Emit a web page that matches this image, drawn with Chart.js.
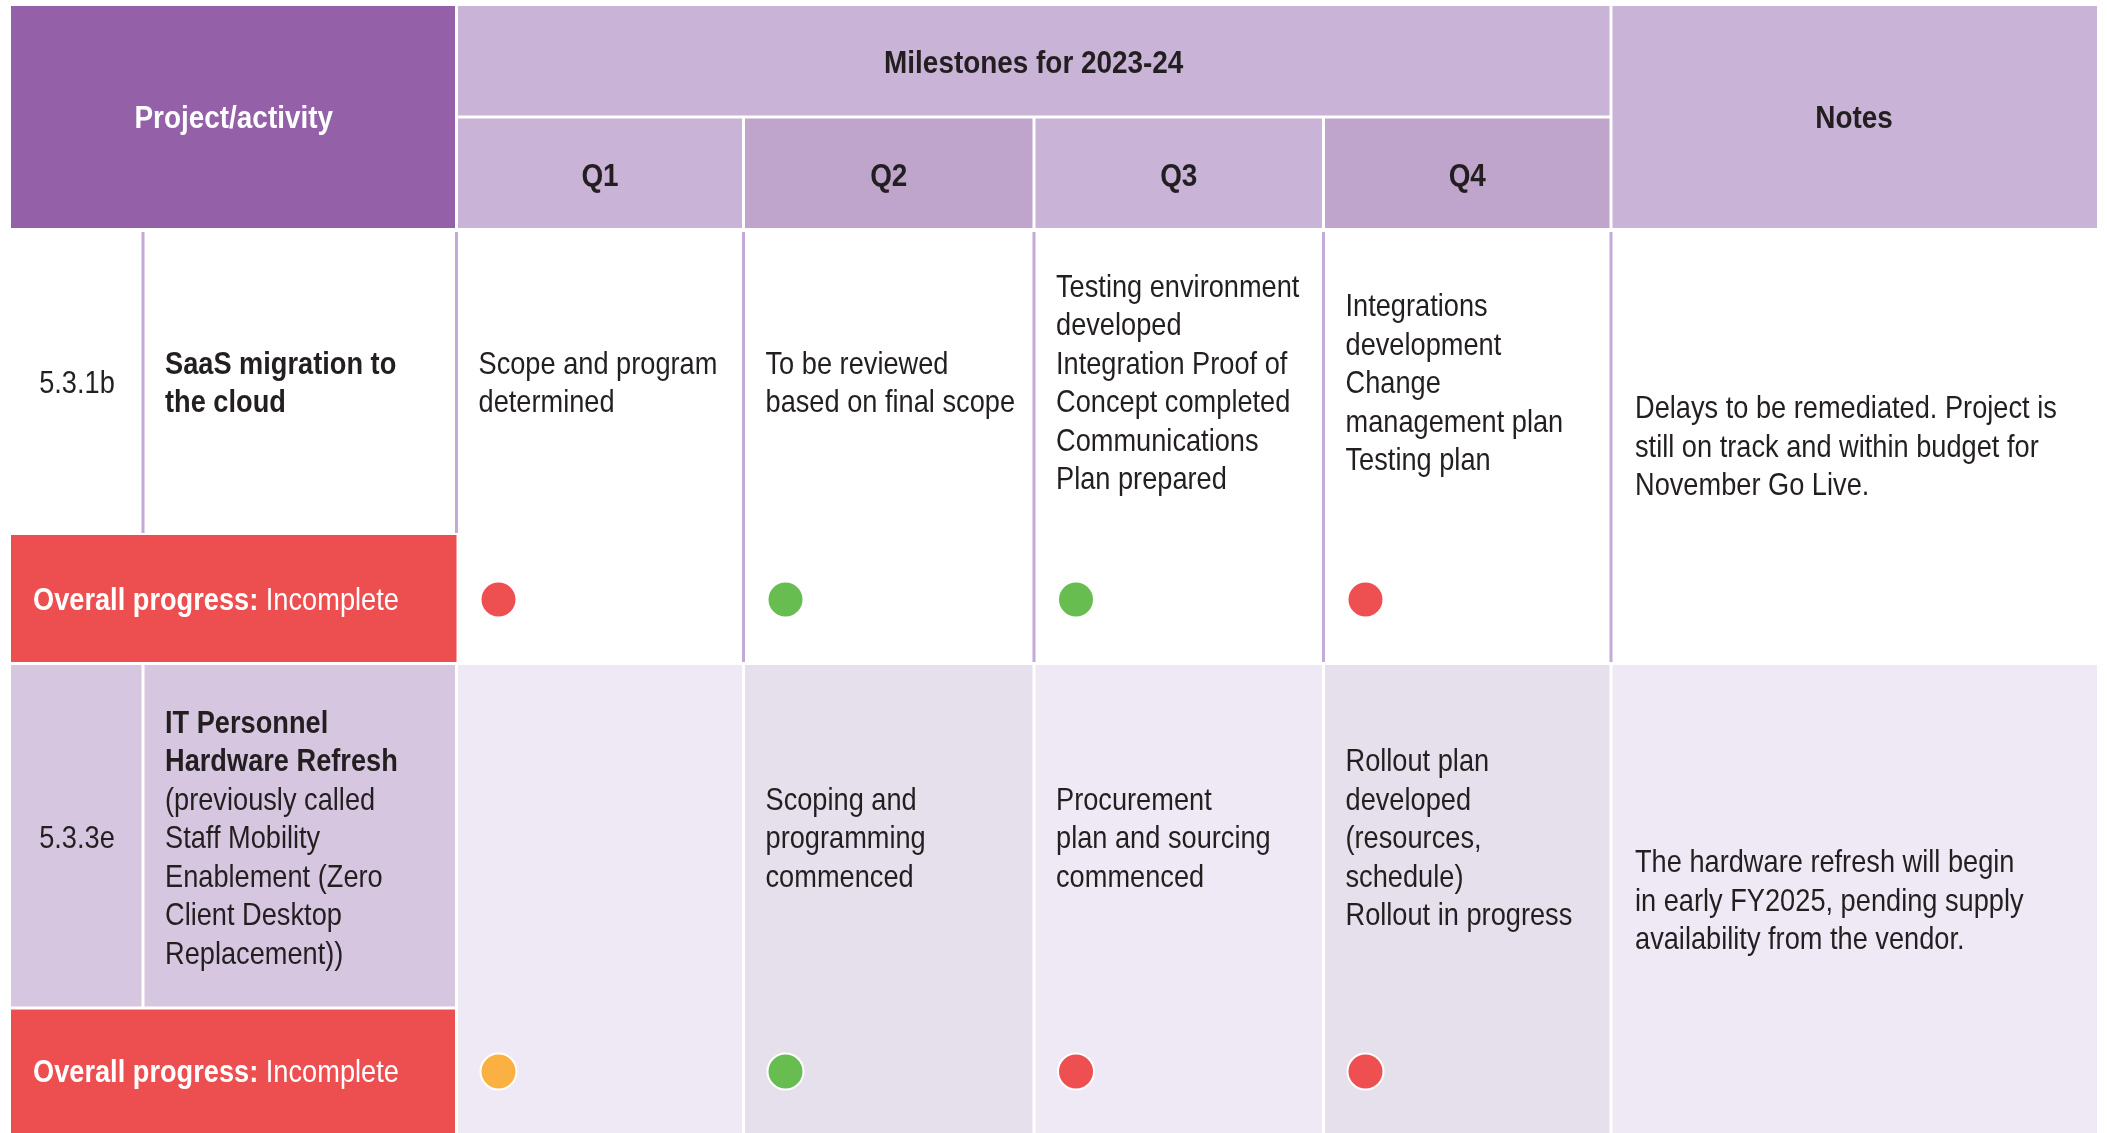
<!DOCTYPE html>
<html>
<head>
<meta charset="utf-8">
<script src="https://cdn.jsdelivr.net/npm/chart.js@4/dist/chart.umd.min.js"></script>
<style>
html,body{margin:0;padding:0;background:#fff;overflow:hidden;}
canvas{display:block;}
</style>
</head>
<body>
<canvas id="c" width="2107" height="1133"></canvas>
<script>
// ---------- DATA ----------
const headerProject = 'Project/activity';
const headerMilestones = 'Milestones for 2023-24';
const headerNotes = 'Notes';
const quarters = ['Q1', 'Q2', 'Q3', 'Q4'];

const projectIds = ['5.3.1b', '5.3.3e'];
const projectTitles = [['SaaS migration to', 'the cloud'], ['IT Personnel', 'Hardware Refresh']];
const projectSubtitles = [[], ['(previously called', 'Staff Mobility', 'Enablement (Zero', 'Client Desktop', 'Replacement))']];

const milestonesRow1 = [
  ['Scope and program', 'determined'],
  ['To be reviewed', 'based on final scope'],
  ['Testing environment', 'developed', 'Integration Proof of', 'Concept completed', 'Communications', 'Plan prepared'],
  ['Integrations', 'development', 'Change', 'management plan', 'Testing plan']
];
const milestonesRow2 = [
  [],
  ['Scoping and', 'programming', 'commenced'],
  ['Procurement', 'plan and sourcing', 'commenced'],
  ['Rollout plan', 'developed', '(resources,', 'schedule)', 'Rollout in progress']
];
const statusRow1 = ['red', 'green', 'green', 'red'];
const statusRow2 = ['amber', 'green', 'red', 'red'];
const overallLabel = 'Overall progress:';
const overallStatus = ['Incomplete', 'Incomplete'];
const notesRows = [
  ['Delays to be remediated. Project is', 'still on track and within budget for', 'November Go Live.'],
  ['The hardware refresh will begin', 'in early FY2025, pending supply', 'availability from the vendor.']
];

// ---------- LAYOUT / STYLE ----------
const W = 2107, H = 1133;
const colEdges = [11, 143, 456.5, 743.5, 1034, 1323.5, 1611, 2097];
const hdrY = [6, 117, 228];
const rowBands = [
  { top: 228, mid: 535, bottom: 662 },
  { top: 665, mid: 1008, bottom: 1133 }
];
const C = {
  hdrDark: '#9460a8', hdrLight: '#c9b3d7', hdrMid: '#bfa5cc',
  red: '#ed4f51', row2Label: '#d7c6e0', row2Light: '#efe9f5', row2Dark: '#e6dfec',
  divider: '#c4aad6', text: '#231f20',
  dot: { red: '#ee4f51', green: '#67bd50', amber: '#fbb142' }
};
const FONT = '"Liberation Sans", Arial, sans-serif';
const LH = 38.5;

function txt(ctx, s, x, y, weight, size, color, align, sx) {
  ctx.save();
  ctx.font = weight + ' ' + size + 'px ' + FONT;
  ctx.fillStyle = color;
  ctx.textBaseline = 'alphabetic';
  ctx.textAlign = 'left';
  const w = ctx.measureText(s).width * sx;
  const x0 = align === 'center' ? x - w / 2 : x;
  ctx.translate(x0, y);
  ctx.scale(sx, 1);
  ctx.fillText(s, 0, 0);
  ctx.restore();
  return w;
}

const tablePlugin = {
  id: 'tablePlugin',
  beforeDatasetsDraw(chart) {
    const ctx = chart.ctx;
    const sx = chart.scales.x, sy = chart.scales.y;
    const X = v => sx.getPixelForValue(v);
    const Y = v => sy.getPixelForValue(v);
    const rect = (x0, y0, x1, y1, col) => { ctx.fillStyle = col; ctx.fillRect(X(x0), Y(y0), X(x1) - X(x0), Y(y1) - Y(y0)); };
    const vline = (x, y0, y1, col, w) => { ctx.strokeStyle = col; ctx.lineWidth = w; ctx.beginPath(); ctx.moveTo(X(x), Y(y0)); ctx.lineTo(X(x), Y(y1)); ctx.stroke(); };
    const hline = (x0, x1, y, col, w) => { ctx.strokeStyle = col; ctx.lineWidth = w; ctx.beginPath(); ctx.moveTo(X(x0), Y(y)); ctx.lineTo(X(x1), Y(y)); ctx.stroke(); };
    const E = colEdges;

    // ----- header -----
    rect(E[0], hdrY[0], E[2], hdrY[2], C.hdrDark);
    rect(E[2], hdrY[0], E[6], hdrY[1], C.hdrLight);
    for (let q = 0; q < 4; q++) rect(E[2 + q], hdrY[1], E[3 + q], hdrY[2], q % 2 === 1 ? C.hdrMid : C.hdrLight);
    rect(E[6], hdrY[0], E[7], hdrY[2], C.hdrLight);
    hline(E[2], E[6], hdrY[1], '#fff', 3);
    for (let i = 2; i <= 6; i++) vline(E[i], i === 2 || i === 6 ? hdrY[0] : hdrY[1], hdrY[2], '#fff', 3);

    const hs = 31, hsx = 0.9;
    const base = (c, size) => Y(c) + size * 0.36;
    txt(ctx, headerProject, (X(E[0]) + X(E[2])) / 2, base((hdrY[0] + hdrY[2]) / 2, hs), 'bold', hs, '#fff', 'center', hsx);
    txt(ctx, headerMilestones, (X(E[2]) + X(E[6])) / 2, base((hdrY[0] + hdrY[1]) / 2, hs), 'bold', hs, C.text, 'center', hsx);
    quarters.forEach((q, i) => txt(ctx, q, (X(E[2 + i]) + X(E[3 + i])) / 2, base((hdrY[1] + hdrY[2]) / 2 + 2, hs), 'bold', hs, C.text, 'center', hsx));
    txt(ctx, headerNotes, (X(E[6]) + X(E[7])) / 2, base((hdrY[0] + hdrY[2]) / 2, hs), 'bold', hs, C.text, 'center', hsx);

    // ----- row backgrounds -----
    const r1 = rowBands[0], r2 = rowBands[1];
    rect(E[0], r1.mid, E[2], r1.bottom, C.red);
    rect(E[0], r2.top, E[2], r2.mid, C.row2Label);
    rect(E[0], r2.mid, E[2], r2.bottom, C.red);
    for (let q = 0; q < 5; q++) rect(E[2 + q], r2.top, E[3 + q], r2.bottom, q % 2 === 1 ? C.row2Dark : C.row2Light);

    // row 1 dividers (lavender)
    vline(E[1], r1.top + 4, r1.mid - 2, C.divider, 3);
    vline(E[2], r1.top + 4, r1.mid - 2, C.divider, 3);
    for (let i = 3; i <= 6; i++) vline(E[i], r1.top + 4, r1.bottom, C.divider, 3);
    // row 2 separators (white)
    vline(E[1], r2.top, r2.mid, '#fff', 3);
    for (let i = 2; i <= 6; i++) vline(E[i], r2.top, r2.bottom, '#fff', 3);
    hline(E[0], E[2], r2.mid, '#fff', 3);

    // ----- texts -----
    const bs = 32, bsx = 0.85;
    const block = (lines, x, yc, weights, align) => {
      const n = lines.length;
      lines.forEach((s, k) => {
        const cy = yc + (k - (n - 1) / 2) * LH;
        txt(ctx, s, x, Y(cy) + bs * 0.36, weights[k] || 'normal', bs, C.text, align || 'left', bsx);
      });
    };
    [r1, r2].forEach((r, ri) => {
      const yc = (r.top + r.mid) / 2;
      block([projectIds[ri]], (X(E[0]) + X(E[1])) / 2, yc, [], 'center');
      const titleLines = projectTitles[ri].concat(projectSubtitles[ri]);
      const weights = projectTitles[ri].map(() => 'bold').concat(projectSubtitles[ri].map(() => 'normal'));
      block(titleLines, X(E[1]) + 22, yc, weights);
      const ms = ri === 0 ? milestonesRow1 : milestonesRow2;
      ms.forEach((lines, q) => block(lines, X(E[2 + q]) + 22, yc, []));
      block(notesRows[ri], X(E[6]) + 24, (r.top + r.bottom) / 2, []);
      // overall progress
      const py = Y((r.mid + r.bottom) / 2) + bs * 0.36;
      const w = txt(ctx, overallLabel, X(E[0]) + 22, py, 'bold', bs, '#fff', 'left', bsx);
      txt(ctx, ' ' + overallStatus[ri], X(E[0]) + 22 + w, py, 'normal', bs, '#fff', 'left', bsx);
    });
  }
};

// dots built from the status arrays
const dotPoints = [], dotColors = [];
[statusRow1, statusRow2].forEach((row, ri) => {
  const r = rowBands[ri];
  row.forEach((st, q) => {
    dotPoints.push({ x: colEdges[2 + q] + 42, y: (r.mid + r.bottom) / 2 + 1 });
    dotColors.push(C.dot[st]);
  });
});

new Chart(document.getElementById('c'), {
  type: 'scatter',
  data: {
    datasets: [{
      data: dotPoints,
      pointBackgroundColor: dotColors,
      pointBorderColor: '#ffffff',
      pointBorderWidth: 2,
      pointRadius: 18,
      pointHoverRadius: 18
    }]
  },
  options: {
    responsive: false,
    animation: false,
    layout: { padding: 0, autoPadding: false },
    events: [],
    plugins: { legend: { display: false }, tooltip: { enabled: false } },
    scales: {
      x: { type: 'linear', min: 0, max: W, display: false },
      y: { type: 'linear', min: 0, max: H, reverse: true, display: false }
    }
  },
  plugins: [tablePlugin]
});
</script>
</body>
</html>
